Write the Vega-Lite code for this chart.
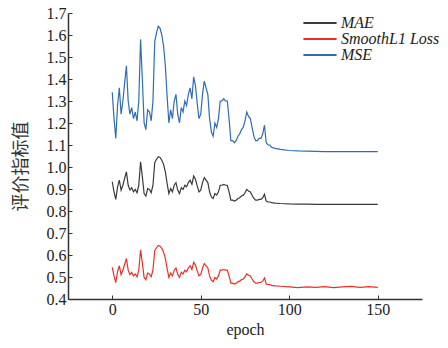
{
  "$schema": "https://vega.github.io/schema/vega-lite/v6.json",
  "width": 354,
  "height": 286,
  "autosize": "none",
  "padding": {"left": 68, "top": 13, "right": 26, "bottom": 49},
  "background": "white",
  "config": {"view": {"stroke": null}, "font": "Liberation Serif"},
  "data": {"values": [
    {"epoch":0,"MAE":0.933,"SmoothL1 Loss":0.544,"MSE":1.34},
    {"epoch":1,"MAE":0.887,"SmoothL1 Loss":0.505,"MSE":1.22},
    {"epoch":2,"MAE":0.853,"SmoothL1 Loss":0.475,"MSE":1.13},
    {"epoch":3,"MAE":0.910,"SmoothL1 Loss":0.524,"MSE":1.28},
    {"epoch":4,"MAE":0.940,"SmoothL1 Loss":0.551,"MSE":1.36},
    {"epoch":5,"MAE":0.895,"SmoothL1 Loss":0.511,"MSE":1.24},
    {"epoch":6,"MAE":0.917,"SmoothL1 Loss":0.531,"MSE":1.30},
    {"epoch":7,"MAE":0.948,"SmoothL1 Loss":0.557,"MSE":1.38},
    {"epoch":8,"MAE":0.978,"SmoothL1 Loss":0.584,"MSE":1.46},
    {"epoch":9,"MAE":0.917,"SmoothL1 Loss":0.531,"MSE":1.30},
    {"epoch":10,"MAE":0.895,"SmoothL1 Loss":0.511,"MSE":1.24},
    {"epoch":11,"MAE":0.906,"SmoothL1 Loss":0.521,"MSE":1.27},
    {"epoch":12,"MAE":0.887,"SmoothL1 Loss":0.505,"MSE":1.22},
    {"epoch":13,"MAE":0.898,"SmoothL1 Loss":0.514,"MSE":1.25},
    {"epoch":14,"MAE":0.883,"SmoothL1 Loss":0.501,"MSE":1.21},
    {"epoch":15,"MAE":0.917,"SmoothL1 Loss":0.531,"MSE":1.30},
    {"epoch":16,"MAE":1.024,"SmoothL1 Loss":0.623,"MSE":1.58},
    {"epoch":17,"MAE":0.955,"SmoothL1 Loss":0.564,"MSE":1.40},
    {"epoch":18,"MAE":0.879,"SmoothL1 Loss":0.498,"MSE":1.20},
    {"epoch":19,"MAE":0.868,"SmoothL1 Loss":0.488,"MSE":1.17},
    {"epoch":20,"MAE":0.902,"SmoothL1 Loss":0.518,"MSE":1.26},
    {"epoch":21,"MAE":0.898,"SmoothL1 Loss":0.514,"MSE":1.25},
    {"epoch":22,"MAE":0.883,"SmoothL1 Loss":0.501,"MSE":1.21},
    {"epoch":23,"MAE":0.917,"SmoothL1 Loss":0.531,"MSE":1.30},
    {"epoch":24,"MAE":1.020,"SmoothL1 Loss":0.620,"MSE":1.57},
    {"epoch":25,"MAE":1.035,"SmoothL1 Loss":0.633,"MSE":1.61},
    {"epoch":26,"MAE":1.047,"SmoothL1 Loss":0.643,"MSE":1.64},
    {"epoch":27,"MAE":1.043,"SmoothL1 Loss":0.640,"MSE":1.63},
    {"epoch":28,"MAE":1.031,"SmoothL1 Loss":0.630,"MSE":1.60},
    {"epoch":29,"MAE":1.012,"SmoothL1 Loss":0.613,"MSE":1.55},
    {"epoch":30,"MAE":0.978,"SmoothL1 Loss":0.584,"MSE":1.46},
    {"epoch":31,"MAE":0.925,"SmoothL1 Loss":0.538,"MSE":1.32},
    {"epoch":32,"MAE":0.879,"SmoothL1 Loss":0.498,"MSE":1.20},
    {"epoch":33,"MAE":0.902,"SmoothL1 Loss":0.518,"MSE":1.26},
    {"epoch":34,"MAE":0.887,"SmoothL1 Loss":0.505,"MSE":1.22},
    {"epoch":35,"MAE":0.917,"SmoothL1 Loss":0.531,"MSE":1.30},
    {"epoch":36,"MAE":0.929,"SmoothL1 Loss":0.541,"MSE":1.33},
    {"epoch":37,"MAE":0.895,"SmoothL1 Loss":0.511,"MSE":1.24},
    {"epoch":38,"MAE":0.879,"SmoothL1 Loss":0.498,"MSE":1.20},
    {"epoch":39,"MAE":0.906,"SmoothL1 Loss":0.521,"MSE":1.27},
    {"epoch":40,"MAE":0.898,"SmoothL1 Loss":0.514,"MSE":1.25},
    {"epoch":41,"MAE":0.917,"SmoothL1 Loss":0.531,"MSE":1.30},
    {"epoch":42,"MAE":0.910,"SmoothL1 Loss":0.524,"MSE":1.28},
    {"epoch":43,"MAE":0.929,"SmoothL1 Loss":0.541,"MSE":1.33},
    {"epoch":44,"MAE":0.940,"SmoothL1 Loss":0.551,"MSE":1.36},
    {"epoch":45,"MAE":0.921,"SmoothL1 Loss":0.534,"MSE":1.31},
    {"epoch":46,"MAE":0.959,"SmoothL1 Loss":0.567,"MSE":1.41},
    {"epoch":47,"MAE":0.944,"SmoothL1 Loss":0.554,"MSE":1.37},
    {"epoch":48,"MAE":0.914,"SmoothL1 Loss":0.528,"MSE":1.29},
    {"epoch":49,"MAE":0.887,"SmoothL1 Loss":0.505,"MSE":1.22},
    {"epoch":50,"MAE":0.895,"SmoothL1 Loss":0.511,"MSE":1.24},
    {"epoch":51,"MAE":0.929,"SmoothL1 Loss":0.541,"MSE":1.33},
    {"epoch":52,"MAE":0.952,"SmoothL1 Loss":0.561,"MSE":1.39},
    {"epoch":53,"MAE":0.940,"SmoothL1 Loss":0.551,"MSE":1.36},
    {"epoch":54,"MAE":0.929,"SmoothL1 Loss":0.541,"MSE":1.33},
    {"epoch":55,"MAE":0.887,"SmoothL1 Loss":0.505,"MSE":1.22},
    {"epoch":56,"MAE":0.864,"SmoothL1 Loss":0.485,"MSE":1.16},
    {"epoch":57,"MAE":0.857,"SmoothL1 Loss":0.478,"MSE":1.14},
    {"epoch":58,"MAE":0.879,"SmoothL1 Loss":0.498,"MSE":1.20},
    {"epoch":59,"MAE":0.872,"SmoothL1 Loss":0.491,"MSE":1.18},
    {"epoch":60,"MAE":0.887,"SmoothL1 Loss":0.505,"MSE":1.22},
    {"epoch":61,"MAE":0.917,"SmoothL1 Loss":0.531,"MSE":1.30},
    {"epoch":62,"MAE":0.917,"SmoothL1 Loss":0.531,"MSE":1.30},
    {"epoch":63,"MAE":0.921,"SmoothL1 Loss":0.534,"MSE":1.31},
    {"epoch":64,"MAE":0.917,"SmoothL1 Loss":0.531,"MSE":1.30},
    {"epoch":65,"MAE":0.917,"SmoothL1 Loss":0.531,"MSE":1.30},
    {"epoch":66,"MAE":0.887,"SmoothL1 Loss":0.505,"MSE":1.22},
    {"epoch":67,"MAE":0.849,"SmoothL1 Loss":0.472,"MSE":1.12},
    {"epoch":68,"MAE":0.849,"SmoothL1 Loss":0.472,"MSE":1.12},
    {"epoch":69,"MAE":0.845,"SmoothL1 Loss":0.468,"MSE":1.11},
    {"epoch":70,"MAE":0.849,"SmoothL1 Loss":0.472,"MSE":1.12},
    {"epoch":71,"MAE":0.857,"SmoothL1 Loss":0.478,"MSE":1.14},
    {"epoch":72,"MAE":0.860,"SmoothL1 Loss":0.481,"MSE":1.15},
    {"epoch":73,"MAE":0.868,"SmoothL1 Loss":0.488,"MSE":1.17},
    {"epoch":74,"MAE":0.872,"SmoothL1 Loss":0.491,"MSE":1.18},
    {"epoch":75,"MAE":0.883,"SmoothL1 Loss":0.501,"MSE":1.21},
    {"epoch":76,"MAE":0.898,"SmoothL1 Loss":0.514,"MSE":1.25},
    {"epoch":77,"MAE":0.891,"SmoothL1 Loss":0.508,"MSE":1.23},
    {"epoch":78,"MAE":0.887,"SmoothL1 Loss":0.505,"MSE":1.22},
    {"epoch":79,"MAE":0.872,"SmoothL1 Loss":0.491,"MSE":1.18},
    {"epoch":80,"MAE":0.857,"SmoothL1 Loss":0.478,"MSE":1.14},
    {"epoch":81,"MAE":0.849,"SmoothL1 Loss":0.472,"MSE":1.12},
    {"epoch":82,"MAE":0.849,"SmoothL1 Loss":0.472,"MSE":1.12},
    {"epoch":83,"MAE":0.853,"SmoothL1 Loss":0.475,"MSE":1.13},
    {"epoch":84,"MAE":0.853,"SmoothL1 Loss":0.475,"MSE":1.13},
    {"epoch":85,"MAE":0.860,"SmoothL1 Loss":0.481,"MSE":1.15},
    {"epoch":86,"MAE":0.876,"SmoothL1 Loss":0.495,"MSE":1.19},
    {"epoch":87,"MAE":0.845,"SmoothL1 Loss":0.468,"MSE":1.11},
    {"epoch":88,"MAE":0.841,"SmoothL1 Loss":0.465,"MSE":1.10},
    {"epoch":89,"MAE":0.841,"SmoothL1 Loss":0.465,"MSE":1.10},
    {"epoch":90,"MAE":0.838,"SmoothL1 Loss":0.462,"MSE":1.09},
    {"epoch":92,"MAE":0.836,"SmoothL1 Loss":0.460,"MSE":1.085},
    {"epoch":95,"MAE":0.834,"SmoothL1 Loss":0.458,"MSE":1.08},
    {"epoch":100,"MAE":0.832,"SmoothL1 Loss":0.455,"MSE":1.075},
    {"epoch":105,"MAE":0.831,"SmoothL1 Loss":0.452,"MSE":1.073},
    {"epoch":110,"MAE":0.831,"SmoothL1 Loss":0.455,"MSE":1.072},
    {"epoch":115,"MAE":0.830,"SmoothL1 Loss":0.453,"MSE":1.071},
    {"epoch":120,"MAE":0.830,"SmoothL1 Loss":0.456,"MSE":1.070},
    {"epoch":125,"MAE":0.830,"SmoothL1 Loss":0.452,"MSE":1.070},
    {"epoch":130,"MAE":0.830,"SmoothL1 Loss":0.455,"MSE":1.070},
    {"epoch":135,"MAE":0.830,"SmoothL1 Loss":0.457,"MSE":1.070},
    {"epoch":140,"MAE":0.830,"SmoothL1 Loss":0.453,"MSE":1.070},
    {"epoch":145,"MAE":0.830,"SmoothL1 Loss":0.456,"MSE":1.070},
    {"epoch":150,"MAE":0.830,"SmoothL1 Loss":0.453,"MSE":1.070}
  ]},
  "transform": [{"fold": ["MAE", "SmoothL1 Loss", "MSE"], "as": ["series", "value"]}],
  "mark": {"type": "line", "strokeWidth": 1.2, "clip": true},
  "encoding": {
    "x": {
      "field": "epoch", "type": "quantitative",
      "scale": {"domain": [-25, 175], "nice": false, "zero": false},
      "axis": {
        "title": "epoch", "values": [0, 50, 100, 150], "grid": false,
        "domainColor": "#333", "domainWidth": 1.5, "tickColor": "#333", "tickSize": -4,
        "labelFont": "Liberation Serif", "labelFontSize": 16, "labelColor": "#222", "labelPadding": 6,
        "titleFont": "Liberation Serif", "titleFontSize": 16, "titleFontWeight": "normal", "titleColor": "#222", "titlePadding": 4
      }
    },
    "y": {
      "field": "value", "type": "quantitative",
      "scale": {"domain": [0.4, 1.7], "nice": false, "zero": false},
      "axis": {
        "title": "评价指标值", "values": [0.4,0.5,0.6,0.7,0.8,0.9,1.0,1.1,1.2,1.3,1.4,1.5,1.6,1.7], "format": ".1f", "grid": false,
        "domainColor": "#333", "domainWidth": 1.5, "tickColor": "#333", "tickSize": -4,
        "labelFont": "Liberation Serif", "labelFontSize": 16, "labelColor": "#222", "labelPadding": 6,
        "titleFont": "Noto Sans CJK SC", "titleFontSize": 18, "titleFontWeight": "normal", "titleColor": "#333", "titlePadding": 16, "titleY": 153
      }
    },
    "color": {
      "field": "series", "type": "nominal",
      "scale": {"domain": ["MAE", "SmoothL1 Loss", "MSE"], "range": ["#3a3a3a", "#e8302a", "#2f6cb3"]},
      "legend": {
        "title": null, "orient": "none", "legendX": 234, "legendY": 2,
        "symbolType": "stroke", "symbolSize": 1100, "symbolStrokeWidth": 2, "clipHeight": 16, "rowPadding": 0,
        "labelFont": "Liberation Serif", "labelFontStyle": "italic", "labelFontSize": 16, "labelColor": "#222", "labelOffset": 3
      }
    }
  }
}
